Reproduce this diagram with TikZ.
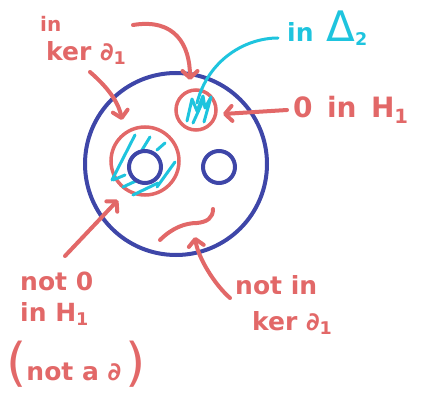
\documentclass[tikz,border=0pt]{standalone}
\usepackage{fontspec}
\setmainfont{DejaVu Sans}
\usetikzlibrary{arrows.meta}
\definecolor{cred}{RGB}{226,104,104}
\definecolor{cblue}{RGB}{62,70,168}
\definecolor{ccyan}{RGB}{30,196,222}
\begin{document}
\begin{tikzpicture}[x=1pt,y=-1pt,
  redln/.style={draw=cred,line width=4pt,line cap=round,line join=round},
  bluecirc/.style={circle,draw=cblue,line width=4pt,inner sep=0pt},
  redcirc/.style={circle,draw=cred,line width=3.5pt,inner sep=0pt},
  hatch/.style={draw=ccyan,line width=3pt,line cap=round,line join=round},
  arr/.style={redln,-{Straight Barb[length=7pt,width=15pt,round]}},
  lbl/.style={text=cred,font=\bfseries\fontsize{25}{30}\selectfont,inner sep=0pt,anchor=west}]
\useasboundingbox (0,0) rectangle (425,395);

% circles
\node[bluecirc,minimum size=182pt] (big) at (176,164) {};
\node[redcirc,minimum size=68pt] (ring) at (145,161) {};
\node[redcirc,minimum size=40pt] (small) at (196,110) {};

% hatching
\draw[hatch] (187,121) -- (192,99) -- (197,111) -- (203,96) -- (205,108) -- (211,97) -- (204,122);
\draw[hatch] (193,123) -- (203,101);
\draw[hatch] (112,180) -- (135,135);
\draw[hatch] (142,150) -- (150,137);
\draw[hatch] (157,150) -- (165,143);
\draw[hatch] (113,180) -- (125,175);
\draw[hatch] (123,187) -- (138,180);
\draw[hatch] (133,195) -- (158,183);
\draw[hatch] (157,187) -- (175,162);

\node[bluecirc,minimum size=32pt] (hole1) at (145,167) {};
\node[bluecirc,minimum size=32pt] (hole2) at (219,167) {};

% labels
\node[lbl,font=\bfseries\fontsize{20}{22}\selectfont] (in1) at (40,24) {in};
\node[lbl] (ker1) at (46,53) {ker ∂\textsubscript{1}};
\node[lbl,text=ccyan] (delta) at (287,28) {in\, {\mdseries\fontsize{42}{42}\selectfont Δ}\textsubscript{2}};
\node[lbl,font=\bfseries\fontsize{28}{30}\selectfont] (zero) at (293,110) {0\, in\, H\textsubscript{1}};
\node[lbl] (nz1) at (20,281) {not 0};
\node[lbl] (nz2) at (20,314) {in H\textsubscript{1}};
\node[lbl] (nz3) at (6,364) {{\mdseries\fontsize{52}{52}\selectfont(}not a ∂\,{\mdseries\fontsize{52}{52}\selectfont)}};
\node[lbl] (ni1) at (235,285) {not in};
\node[lbl] (ni2) at (252,323) {ker ∂\textsubscript{1}};

% free ends
\coordinate (a1s) at (133,25);  \coordinate (a1e) at (190,80);
\coordinate (a2s) at (90,72);   \coordinate (a2e) at (122,120);
\coordinate (a3s) at (287,110); \coordinate (a3e) at (223,114);
\coordinate (c1s) at (278,38);  \coordinate (c1e) at (197,103);
\coordinate (a5s) at (65,256);  \coordinate (a5e) at (118,200);
\coordinate (a6s) at (230,298); \coordinate (a6e) at (195,237);
\coordinate (sq1) at (160,240); \coordinate (sq2) at (197,223); \coordinate (sq3) at (213,209);

% connectors
\draw[arr] (a1s) .. controls (175,18) and (190,45) .. (a1e);
\draw[arr] (a2s) .. controls (105,85) and (118,100) .. (a2e);
\draw[arr] (a3s) -- (a3e);
\draw[hatch] (c1s) .. controls (245,38) and (208,60) .. (c1e);
\draw[arr] (a5s) -- (a5e);
\draw[arr] (a6s) .. controls (215,285) and (198,258) .. (a6e);
\draw[redln] (sq1) .. controls (172,228) and (185,223) .. (sq2) .. controls (207,222) and (213,218) .. (sq3);
\end{tikzpicture}
\end{document}
